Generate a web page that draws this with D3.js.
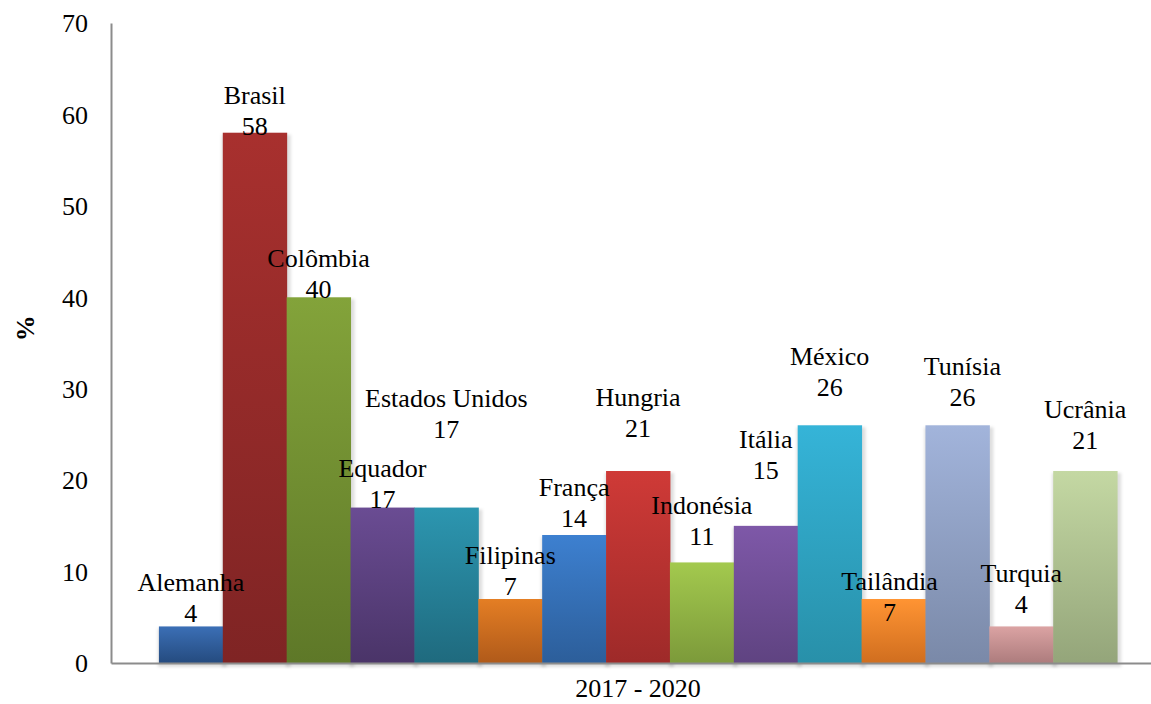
<!DOCTYPE html>
<html>
<head>
<meta charset="utf-8">
<script src="https://cdn.jsdelivr.net/npm/d3@7"></script>
<style>
	body { margin: 0; background: #fff; }
</style>
</head>
<body>
<div id="graphic"></div>
<script>
// =========================================
// bar chart, one group (2017 - 2020), one bar per country
// =========================================

var group = '2017 - 2020';
var countries = ['Alemanha', 'Brasil', 'Colômbia', 'Equador', 'Estados Unidos', 'Filipinas', 'França',
	'Hungria', 'Indonésia', 'Itália', 'México', 'Tailândia', 'Tunísia', 'Turquia', 'Ucrânia'];
var values = [4, 58, 40, 17, 17, 7, 14, 21, 11, 15, 26, 7, 26, 4, 21];
var yTicks = [0, 10, 20, 30, 40, 50, 60, 70];

// bar colours, top and bottom of the gradient
var colorsTop = ['#3b6fb6', '#a8302e', '#83a33a', '#6a4c93', '#2c96b0', '#e47e24', '#3d80d0',
	'#cf3a37', '#a3c94e', '#7e58a8', '#35b4d8', '#ff9433', '#a2b4db', '#dba3a3', '#c4d8a3'];
var colorsBottom = ['#254b7f', '#7f2424', '#5e7828', '#4a3468', '#1f6a7e', '#b05a1a', '#2c5e9a',
	'#9e2a29', '#7c9a3a', '#5f4381', '#2890a9', '#d06e1f', '#7a89a8', '#ad7c7d', '#94a57a'];

// manual label placement (px): value baseline relative to bar top, horizontal nudge
var labelDy = [-4, 2, 1, 0, -70, -4, -8, -34, -17, -47, -29, 22, -19, -13, -22];
var labelDx = [0, 0, 0, 0, 0, 0, 0, 0, 0, 0, 0, -4, 5, 0, 0];

var serif = '"Liberation Serif", "Times New Roman", serif';

renderGraphic({ container: 'graphic', width: 1151, height: 704 });

function renderGraphic(config) {

	var width = config.width,
		height = config.height;

	var margins = { top: 23, right: -14, bottom: 41, left: 111 };
	var chartWidth = width - margins.left - margins.right;
	var chartHeight = height - margins.top - margins.bottom;

	var svg = d3.select('#' + config.container).append('svg')
		.attr('width', width)
		.attr('height', height)
		.style('font-family', serif);

	var defs = svg.append('defs');

	defs.append('filter').attr('id', 'shadow')
		.attr('x', '-20%').attr('y', '-20%').attr('width', '140%').attr('height', '140%')
		.append('feGaussianBlur').attr('stdDeviation', 1.6);

	countries.forEach(function(c, i) {
		var grad = defs.append('linearGradient')
			.attr('id', 'grad-' + i)
			.attr('x1', 0).attr('y1', 0).attr('x2', 0).attr('y2', 1);
		grad.append('stop').attr('offset', '0%').attr('stop-color', colorsTop[i]);
		grad.append('stop').attr('offset', '100%').attr('stop-color', colorsBottom[i]);
	});

	var chartElement = svg.append('g')
		.attr('transform', 'translate(' + margins.left + ',' + margins.top + ')');

	var y = d3.scaleLinear().domain([0, 70]).range([chartHeight, 0]);

	var x0 = d3.scaleBand().domain([group])
		.range([0, chartWidth])
		.paddingOuter(0.05).paddingInner(0);

	var x1 = d3.scaleBand().domain(countries)
		.range([0, x0.bandwidth()]);

	var data = countries.map(function(c, i) {
		return { name: c, value: values[i], i: i };
	});

	var bars = chartElement.append('g')
		.attr('transform', 'translate(' + x0(group) + ',0)');

	// 1. soft shadow under the bars
	bars.append('g').attr('filter', 'url(#shadow)')
		.selectAll('rect').data(data).enter()
		.append('rect')
		.attr('x', function(d) { return x1(d.name) - 1; })
		.attr('y', function(d) { return y(d.value) + 2; })
		.attr('width', x1.bandwidth() + 5)
		.attr('height', function(d) { return y(0) - y(d.value) + 2; })
		.attr('fill', '#000')
		.attr('fill-opacity', 0.13);

	// 2. bars
	bars.append('g').selectAll('rect').data(data).enter()
		.append('rect')
		.attr('x', function(d) { return x1(d.name); })
		.attr('y', function(d) { return y(d.value); })
		.attr('width', x1.bandwidth() + 0.5)
		.attr('height', function(d) { return y(0) - y(d.value); })
		.attr('fill', function(d) { return 'url(#grad-' + d.i + ')'; });

	// 3. axes
	var yAxis = chartElement.append('g').attr('class', 'axis axis-y')
		.call(d3.axisLeft(y).tickValues(yTicks).tickSize(0).tickPadding(23));
	yAxis.attr('font-family', serif).attr('font-size', 26);
	yAxis.select('.domain').attr('stroke', '#8c8c8c').attr('stroke-width', 2);
	yAxis.selectAll('text').attr('dy', '0.34em');

	var xAxis = chartElement.append('g').attr('class', 'axis axis-x')
		.attr('transform', 'translate(0,' + chartHeight + ')')
		.call(d3.axisBottom(x0).tickSize(0).tickSizeOuter(0).tickPadding(16));
	xAxis.attr('font-family', serif).attr('font-size', 26);
	xAxis.select('.domain').attr('stroke', '#8c8c8c').attr('stroke-width', 2);
	xAxis.selectAll('text').attr('dy', '0.71em');

	chartElement.append('text')
		.attr('transform', 'translate(' + (25 - margins.left) + ',' + y(36.6) + ') rotate(-90)')
		.attr('text-anchor', 'middle')
		.attr('dy', '0.34em')
		.attr('font-family', serif)
		.attr('font-size', 26)
		.attr('font-weight', 'bold')
		.text('%');

	// 4. data labels: name above value
	var labels = bars.append('g')
		.attr('font-family', serif)
		.attr('font-size', 26)
		.attr('text-anchor', 'middle')
		.selectAll('g').data(data).enter()
		.append('g')
		.attr('transform', function(d) {
			var xpos = x1(d.name) + x1.bandwidth() / 2 + labelDx[d.i],
				ypos = y(d.value) + labelDy[d.i];
			return 'translate(' + xpos + ',' + ypos + ')';
		});

	labels.append('text')
		.attr('y', -31)
		.text(function(d) { return d.name; });
	labels.append('text')
		.text(function(d) { return d.value; });

} // end of renderGraphic()
</script>
</body>
</html>
